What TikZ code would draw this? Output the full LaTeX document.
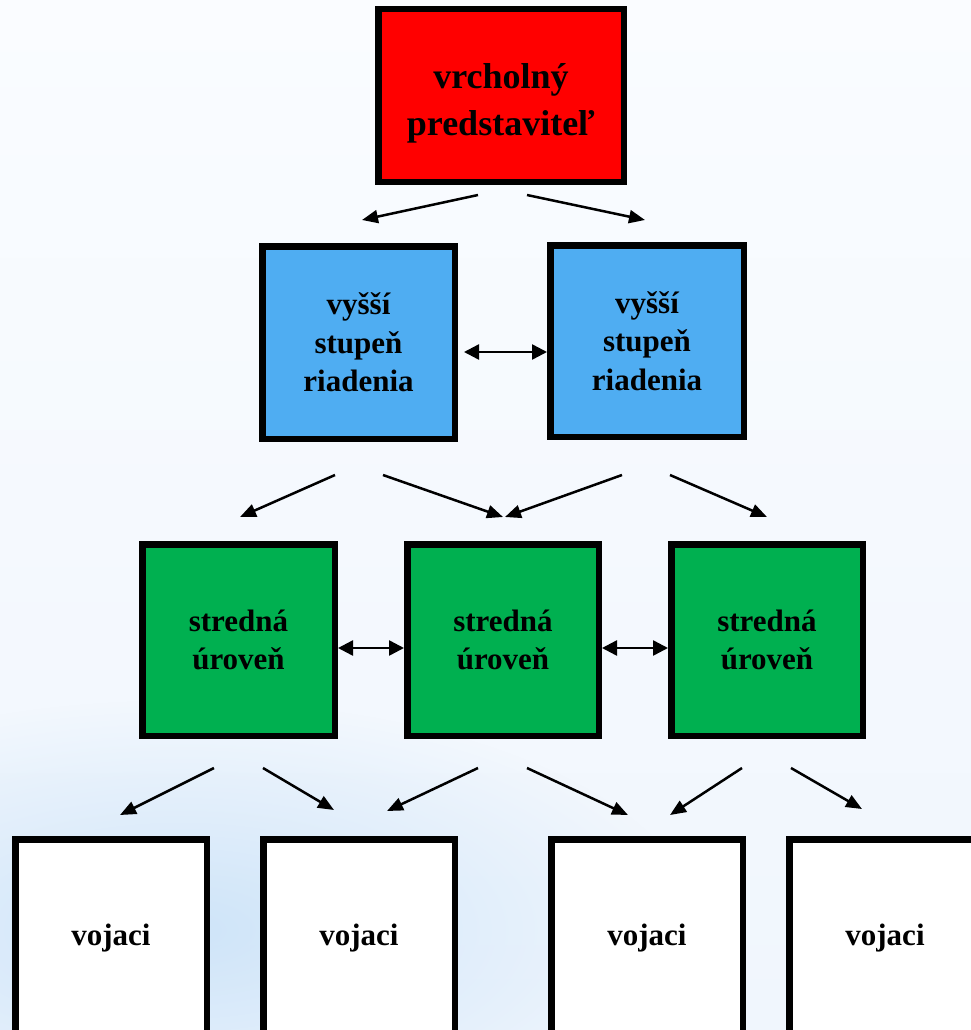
\documentclass[tikz,border=0pt]{standalone}
\usepackage{fontspec}
\setmainfont{Liberation Serif}
\usetikzlibrary{arrows.meta,fadings}
\definecolor{bgtop}{RGB}{250,252,255}
\definecolor{bgbot}{RGB}{240,246,253}
\definecolor{bgblue}{RGB}{200,225,248}
\definecolor{topred}{RGB}{255,0,0}
\definecolor{midblue}{RGB}{79,173,242}
\definecolor{lowgreen}{RGB}{0,176,80}
\tikzfading[name=glow, inner color=transparent!15, outer color=transparent!100]
\tikzset{
  box/.style={draw=black, line width=6.5pt, inner sep=0pt, align=center,
    font=\bfseries\fontsize{31}{38.5}\selectfont, text=black},
  arr/.style={line width=2.5pt, -{Triangle[length=16pt,width=13pt]}},
  dbl/.style={line width=2.5pt, {Triangle[length=15pt,width=15pt]}-{Triangle[length=15pt,width=15pt]}}
}
\begin{document}
\begin{tikzpicture}[x=1pt,y=-1pt]
\useasboundingbox (0,0) rectangle (971,1030);
\clip (0,0) rectangle (971,1030);
\shade[top color=bgtop, bottom color=bgbot] (0,0) rectangle (971,1030);
\fill[bgblue, path fading=glow] (180,930) ellipse [x radius=520pt, y radius=230pt];

% top
\node[box, fill=topred, minimum width=245.5pt, minimum height=172.5pt] (top) at (501,95.5) {};
\node[font=\bfseries\fontsize{36}{47}\selectfont, align=center, inner sep=0pt] (toptext) at (501,103) {vrcholný\\predstaviteľ};

% second level
\node[box, fill=midblue, minimum width=192.5pt, minimum height=192.5pt] (b1) at (358.5,342.5) {vyšší\\stupeň\\riadenia};
\node[box, fill=midblue, minimum width=193.5pt, minimum height=191.5pt] (b2) at (647,341) {vyšší\\stupeň\\riadenia};

% third level
\node[box, fill=lowgreen, minimum width=192.5pt, minimum height=191.5pt] (g1) at (238.5,640) {stredná\\úroveň};
\node[box, fill=lowgreen, minimum width=191.5pt, minimum height=191.5pt] (g2) at (503,640) {stredná\\úroveň};
\node[box, fill=lowgreen, minimum width=191.5pt, minimum height=191.5pt] (g3) at (767,640) {stredná\\úroveň};

% bottom level
\node[box, fill=white, minimum width=191.5pt, minimum height=197.5pt] (w1) at (111,938) {vojaci};
\node[box, fill=white, minimum width=191.5pt, minimum height=197.5pt] (w2) at (359,938) {vojaci};
\node[box, fill=white, minimum width=191.5pt, minimum height=197.5pt] (w3) at (647,938) {vojaci};
\node[box, fill=white, minimum width=191.5pt, minimum height=197.5pt] (w4) at (885,938) {vojaci};

% arrow end points
\coordinate (t1s) at (478,195); \coordinate (t1e) at (362,220);
\coordinate (t2s) at (527,195); \coordinate (t2e) at (645,220);
\coordinate (m1s) at (335,475); \coordinate (m1e) at (240,517);
\coordinate (m2s) at (383,475); \coordinate (m2e) at (503,517);
\coordinate (m3s) at (622,475); \coordinate (m3e) at (505,517);
\coordinate (m4s) at (670,475); \coordinate (m4e) at (767,517);
\coordinate (l1s) at (214,768); \coordinate (l1e) at (120,815);
\coordinate (l2s) at (263,768); \coordinate (l2e) at (334,810);
\coordinate (l3s) at (478,768); \coordinate (l3e) at (387,811);
\coordinate (l4s) at (527,768); \coordinate (l4e) at (628,815);
\coordinate (l5s) at (742,768); \coordinate (l5e) at (670,815);
\coordinate (l6s) at (791,768); \coordinate (l6e) at (862,809);

\foreach \a in {t1,t2,m1,m2,m3,m4,l1,l2,l3,l4,l5,l6}
  \draw[arr] (\a s) -- (\a e);

% double arrows
\draw[dbl] ([xshift=6pt,yshift=-9.5pt]b1.east) -- ([yshift=-11pt]b2.west);
\draw[dbl] ([yshift=-8pt]g1.east) -- ([yshift=-8pt]g2.west);
\draw[dbl] ([yshift=-8pt]g2.east) -- ([yshift=-8pt]g3.west);
\end{tikzpicture}
\end{document}
